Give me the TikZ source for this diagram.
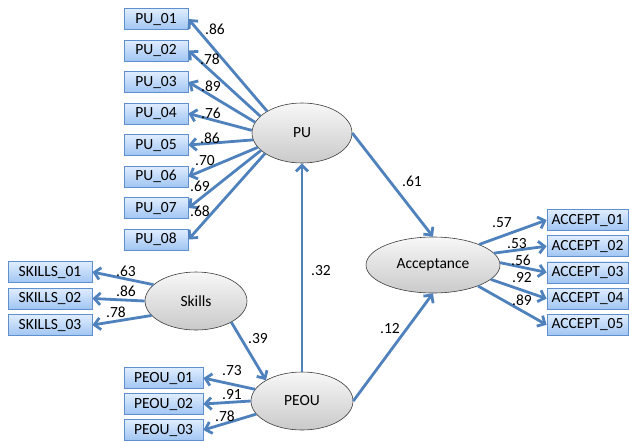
\documentclass[tikz,border=0pt]{standalone}
\usepackage{fontspec}
\setmainfont{Carlito}
\usetikzlibrary{arrows.meta,shapes.geometric}
\definecolor{pathblue}{RGB}{79,129,189}
\definecolor{boxtop}{RGB}{224,237,255}
\definecolor{boxbot}{RGB}{160,197,242}
\definecolor{boxline}{RGB}{96,143,205}
\definecolor{latline}{RGB}{60,60,60}

\begin{document}
\begin{tikzpicture}[x=1pt,y=-1pt,
    item/.style={draw=boxline,line width=0.8pt,top color=boxtop,bottom color=boxbot,
      minimum height=21pt,inner ysep=0pt,text height=11pt,text depth=3pt,
      font=\fontsize{15.5}{18}\selectfont},
    latent/.style={ellipse,draw=latline,line width=0.6pt,top color=gray!6,bottom color=gray!42,
      inner sep=0pt,font=\fontsize{15.5}{18}\selectfont},
    load/.style={draw=pathblue,line width=2.8pt,-{Straight Barb[length=6pt,width=12pt]}},
    coef/.style={inner sep=0pt,font=\fontsize{15.5}{18}\selectfont}]
  \useasboundingbox (0,0) rectangle (629,440);

  % Latent variables
  \node[latent,minimum width=100pt,minimum height=60pt] (PU) at (302,133) {PU};
  \node[latent,minimum width=102pt,minimum height=58pt] (Skills) at (196,301) {Skills};
  \node[latent,minimum width=102pt,minimum height=58pt] (PEOU) at (302,401) {PEOU};
  \node[latent,minimum width=134pt,minimum height=56pt] (Accept) at (433,265) {Acceptance};

  % PU indicators
  \foreach \i/\a/\lx/\ly/\c in {1/148/215/29/.86, 2/158/210/59/.78, 3/167/211/86/.89,
      4/177/211/113/.76, 5/188/210/138/.86, 6/198/205/161/.70, 7/203/200/186/.69,
      8/209/200/211/.68} {
    \node[item,minimum width=64pt] (pu\i) at (156,{19+31.5*(\i-1)}) {PU\_0\i};
    \draw[load] (PU.\a) -- (pu\i.east);
    \node[coef] (cpu\i) at (\lx,\ly) {\c};
  }

  % Skills indicators
  \foreach \i/\a/\lx/\ly/\c in {1/159/126/271/.63, 2/180/126/291/.86, 3/198/116/312/.78} {
    \node[item,minimum width=84pt] (sk\i) at (50,{272+26.5*(\i-1)}) {SKILLS\_0\i};
    \draw[load] (Skills.\a) -- (sk\i.east);
    \node[coef] (csk\i) at (\lx,\ly) {\c};
  }

  % PEOU indicators
  \foreach \i/\a/\lx/\ly/\c in {1/166/232/371/.73, 2/180/232/395/.91, 3/196/225/416/.78} {
    \node[item,minimum width=79pt] (pe\i) at (163.5,{378+26*(\i-1)}) {PEOU\_0\i};
    \draw[load] (PEOU.\a) -- (pe\i.east);
    \node[coef] (cpe\i) at (\lx,\ly) {\c};
  }

  % Acceptance indicators
  \foreach \i/\a/\lx/\ly/\c in {1/24/502/223/.57, 2/11/517/244/.53, 3/2/521/260/.56,
      4/-14/522/278/.92, 5/-25/522/300/.89} {
    \node[item,minimum width=81pt] (ac\i) at (587.5,{220+26.2*(\i-1)}) {ACCEPT\_0\i};
    \draw[load] (Accept.\a) -- (ac\i.west);
    \node[coef] (cac\i) at (\lx,\ly) {\c};
  }

  % Structural paths
  \draw[load] (PU.east) -- (Accept.north);
  \node[coef] (c61) at (412,181) {.61};
  \draw[load] (PEOU.north) -- (PU.south);
  \node[coef] (c32) at (321,271) {.32};
  \draw[load] (PEOU.east) -- (Accept.south);
  \node[coef] (c12) at (390,329) {.12};
  \draw[load] (Skills.329) -- (PEOU.150);
  \node[coef] (c39) at (258,339) {.39};
\end{tikzpicture}
\end{document}
